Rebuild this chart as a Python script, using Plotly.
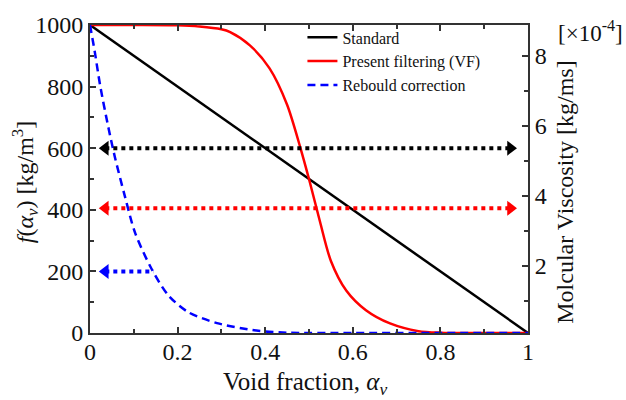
import plotly.graph_objects as go

# Standard (linear)
std_x = [0.0, 1.0]
std_f = [1000, 0]

# Present filtering (VF)
vf_x = [0.0, 0.1, 0.2, 0.25, 0.3, 0.32, 0.365, 0.41, 0.45, 0.48, 0.5, 0.525, 0.55, 0.585, 0.63, 0.685, 0.75, 0.8, 0.9, 1.0]
vf_f = [1000, 1000, 999, 995, 986, 977, 934, 859, 741, 603, 500, 362, 234, 138, 74, 31, 6, 1, 0, 0]

# Rebould correction
rb_x = [0.0, 0.011, 0.023, 0.042, 0.057, 0.08, 0.103, 0.141, 0.179, 0.224, 0.29, 0.38, 0.45, 0.6, 0.8, 1.0]
rb_f = [1000, 912, 805, 667, 570, 442, 325, 207, 122, 68, 32, 8, 1, 0, 0, 0]

# dotted arrows
arrow_colors = ["black", "red", "blue"]
arrow_y = [600, 405, 200]
arrow_x0 = [0.035, 0.035, 0.035]
arrow_x1 = [0.96, 0.96, 0.145]
arrow_right = [True, True, False]

FONT = "Liberation Serif, Times New Roman, serif"

fig = go.Figure()
fig.add_trace(go.Scatter(x=std_x, y=std_f, mode="lines", name="Standard",
                         line=dict(color="black", width=2.5)))
fig.add_trace(go.Scatter(x=vf_x, y=vf_f, mode="lines", name="Present filtering (VF)",
                         line=dict(color="red", width=2.5, shape="spline", smoothing=0.8)))
fig.add_trace(go.Scatter(x=rb_x, y=rb_f, mode="lines", name="Rebould correction",
                         line=dict(color="blue", width=2.5, dash="8px,5px", shape="spline", smoothing=0.8)))

for c, yv, x0, x1, r in zip(arrow_colors, arrow_y, arrow_x0, arrow_x1, arrow_right):
    fig.add_trace(go.Scatter(x=[x0, x1], y=[yv, yv], mode="lines", showlegend=False,
                             line=dict(color=c, width=4, dash="4px,4px")))
    fig.add_trace(go.Scatter(x=[x0], y=[yv], mode="markers", showlegend=False,
                             marker=dict(symbol="triangle-left", size=13, color=c)))
    if r:
        fig.add_trace(go.Scatter(x=[x1], y=[yv], mode="markers", showlegend=False,
                                 marker=dict(symbol="triangle-right", size=13, color=c)))

# invisible trace to activate right axis
fig.add_trace(go.Scatter(x=[0.5], y=[4], yaxis="y2", mode="markers", showlegend=False,
                         marker=dict(opacity=0), hoverinfo="skip"))

axis_common = dict(showline=True, linecolor="#333", linewidth=2, ticks="inside",
                   ticklen=6, tickwidth=1.5, tickcolor="#333", showgrid=False, zeroline=False,
                   tickfont=dict(family=FONT, size=24, color="#111"))

fig.update_layout(
    width=626, height=400,
    margin=dict(l=90, r=98, t=21, b=67),
    plot_bgcolor="white", paper_bgcolor="white",
    font=dict(family=FONT, color="#111"),
    xaxis=dict(range=[0, 1], tickvals=[0, 0.2, 0.4, 0.6, 0.8, 1], ticktext=["0", "0.2", "0.4", "0.6", "0.8", "1"],
               mirror="ticks", minor=dict(dtick=0.1, ticks="inside", ticklen=4, tickcolor="#333"),
               ticklabelstandoff=-4, **axis_common),
    yaxis=dict(range=[0, 1000], tickvals=[0, 200, 400, 600, 800, 1000],
               minor=dict(dtick=100, ticks="inside", ticklen=4, tickcolor="#333"),
               **axis_common),
    yaxis2=dict(overlaying="y", side="right", range=[0.085, 8.87], tickvals=[2, 4, 6, 8],
                minor=dict(dtick=1, ticks="inside", ticklen=4, tickcolor="#333"),
                **axis_common),
    legend=dict(x=0.485, y=1.015, xanchor="left", yanchor="top", bgcolor="rgba(0,0,0,0)",
                font=dict(family=FONT, size=16, color="#111"), tracegroupgap=0),
    showlegend=True,
)

fig.add_annotation(text="<i>f</i>(<i>α</i><sub><i>v</i></sub>) [kg/m<sup>3</sup>]", textangle=-90,
                   xref="paper", yref="paper", x=-0.148, y=0.49, xanchor="center", yanchor="middle",
                   showarrow=False, font=dict(family=FONT, size=24, color="#111"))
fig.add_annotation(text="Molcular Viscosity [kg/ms]", textangle=-90,
                   xref="paper", yref="paper", x=1.084, y=0.458, xanchor="center", yanchor="middle",
                   showarrow=False, font=dict(family=FONT, size=24, color="#111"))
fig.add_annotation(text="[×10<sup>-4</sup>]", xref="paper", yref="paper", x=1.142, y=0.978,
                   xanchor="center", yanchor="middle",
                   showarrow=False, font=dict(family=FONT, size=23, color="#111"))
fig.add_annotation(text="Void fraction, <i>α<sub>v</sub></i>", xref="paper", yref="paper",
                   x=0.49, y=-0.165, xanchor="center", yanchor="middle",
                   showarrow=False, font=dict(family=FONT, size=25, color="#111"))

fig.write_html("out.html")
